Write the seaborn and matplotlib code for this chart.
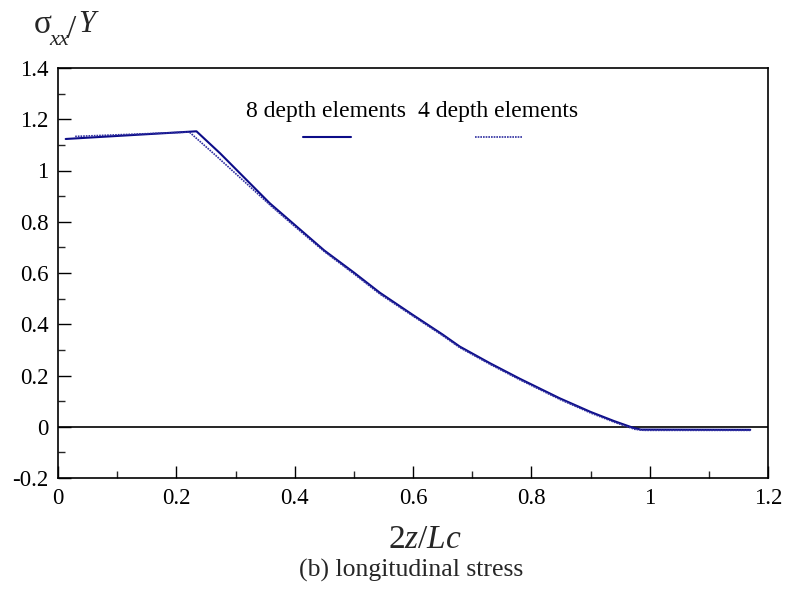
import numpy as np
import pandas as pd
import matplotlib
matplotlib.use("Agg")
import matplotlib.pyplot as plt
import seaborn as sns
from matplotlib.lines import Line2D
from matplotlib.ticker import MultipleLocator, FuncFormatter

# data
x8 = [0.013, 0.234, 0.274, 0.358, 0.40, 0.45, 0.50, 0.544, 0.60, 0.65, 0.679,
      0.73, 0.78, 0.848, 0.90, 0.94, 0.972, 0.985, 1.17]
y8 = [1.123, 1.153, 1.067, 0.872, 0.788, 0.688, 0.602, 0.523, 0.436, 0.360, 0.313,
      0.248, 0.188, 0.111, 0.058, 0.022, -0.004, -0.011, -0.012]
x4 = [0.029, 0.222, 0.265, 0.36, 0.40, 0.45, 0.50, 0.544, 0.60, 0.65, 0.679,
      0.73, 0.78, 0.848, 0.90, 0.94, 0.975, 0.99, 1.17]
y4 = [1.133, 1.150, 1.062, 0.862, 0.782, 0.684, 0.597, 0.518, 0.432, 0.356, 0.309,
      0.244, 0.184, 0.107, 0.054, 0.018, -0.010, -0.014, -0.014]
labels = ["8 depth elements", "4 depth elements"]

df = pd.concat([
    pd.DataFrame({"x": x8, "y": y8, "series": labels[0]}),
    pd.DataFrame({"x": x4, "y": y4, "series": labels[1]}),
])

sns.set_theme(style="ticks")
plt.rcParams["font.family"] = ["Liberation Serif", "DejaVu Serif"]
plt.rcParams["mathtext.fontset"] = "custom"
plt.rcParams["mathtext.rm"] = "Liberation Serif"
plt.rcParams["mathtext.it"] = "Liberation Serif:italic"

fig = plt.figure(figsize=(7.85, 5.89), dpi=100)
ax = fig.add_axes([58/785, 1-478/589, (768-58)/785, (478-68)/589])

color = "#0c0c88"
color4 = "#2e2ea0"
sns.lineplot(data=df, x="x", y="y", hue="series", style="series",
             palette=[color, color4], dashes=[(None, None), (1, 0.6)],
             linewidth=1.5, sort=False, legend=False, ax=ax, estimator=None)
ax.lines[1].set_linewidth(1.2)

ax.axhline(0, color="black", linewidth=1.2, zorder=0)

ax.set_xlim(0, 1.2)
ax.set_ylim(-0.2, 1.4)
ax.xaxis.set_major_locator(MultipleLocator(0.2))
ax.xaxis.set_minor_locator(MultipleLocator(0.1))
ax.yaxis.set_major_locator(MultipleLocator(0.2))
ax.yaxis.set_minor_locator(MultipleLocator(0.1))
fmt = FuncFormatter(lambda v, p: ("%g" % round(v, 2)))
ax.xaxis.set_major_formatter(fmt)
ax.yaxis.set_major_formatter(fmt)
ax.tick_params(axis="both", which="major", direction="in", length=9, width=1,
               labelsize=16.5, colors="black", top=False, right=False)
ax.tick_params(axis="both", which="minor", direction="in", length=5, width=1,
               top=False, right=False)
ax.tick_params(axis="x", pad=7)
ax.tick_params(axis="y", pad=7)
for s in ax.spines.values():
    s.set_visible(True)
    s.set_color("black")
    s.set_linewidth(1.2)
ax.set_xlabel("")
ax.set_ylabel("")

# legend: text above short line samples
ax.text(326/785, 1-111/589, labels[0], transform=fig.transFigure,
        ha="center", va="center", fontsize=17, color="black")
ax.text(498/785, 1-111/589, labels[1], transform=fig.transFigure,
        ha="center", va="center", fontsize=17, color="black")
fig.add_artist(Line2D([303/785, 351/785], [1-137/589]*2, color=color, lw=1.5))
fig.add_artist(Line2D([475/785, 522/785], [1-137/589]*2, color=color4, lw=1.2,
                      linestyle=(0, (1, 0.6))))

# y-axis title: sigma_xx / Y
fig.text(34/785, 1-33/589, "σ", fontsize=24, ha="left", va="baseline")
fig.text(49/785, 1-45/589, "xx", fontsize=16, style="italic", ha="left", va="baseline")
fig.text(67/785, 1-38/589, "/", fontsize=24, ha="left", va="baseline")
fig.text(78/785, 1-32/589, "Y", fontsize=22, style="italic", ha="left", va="baseline")

fig.text(425/785, 1-548/589, r"$2z/Lc$", fontsize=24, ha="center", va="baseline")
fig.text(411/785, 1-577/589, "(b) longitudinal stress", fontsize=18.5,
         ha="center", va="baseline")

fig.savefig("out.png", dpi=100)
